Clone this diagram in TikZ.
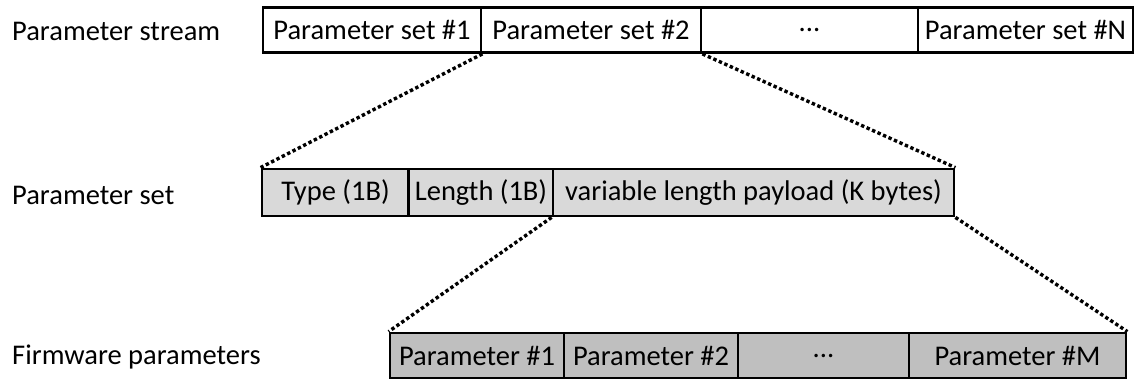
\documentclass[tikz,border=0pt]{standalone}
\usepackage{fontspec}
\setmainfont{Carlito}
\begin{document}
\begin{tikzpicture}[x=1pt,y=-1pt,
  cell/.style={draw=black, line width=2.8pt, inner sep=0pt, anchor=center,
    font=\fontsize{28.5}{32}\selectfont},
  lvlone/.style={cell, fill=white, minimum height=45pt},
  lvltwo/.style={cell, fill=gray!30, minimum height=47pt},
  lvlthree/.style={cell, fill=gray!50, minimum height=45pt},
  rowlabel/.style={anchor=west, inner sep=0pt, font=\fontsize{28.5}{32}\selectfont},
  zoomline/.style={line width=3.4pt, dash pattern=on 3.4pt off 2.6pt}]
\useasboundingbox (0,0) rectangle (1138,380);

% row labels
\node[rowlabel] (lstream) at (12,31) {Parameter stream};
\node[rowlabel] (lset) at (12,195) {Parameter set};
\node[rowlabel] (lfw) at (12,357) {Firmware parameters};

% parameter stream
\node[lvlone, minimum width=218pt] (s1) at (372,30) {Parameter set \#1};
\node[lvlone, minimum width=220pt] (s2) at (591,30) {Parameter set \#2};
\node[lvlone, minimum width=217pt] (s3) at (809.5,30) {...};
\node[lvlone, minimum width=215pt] (s4) at (1025.5,30) {Parameter set \#N};

% parameter set
\node[lvltwo, minimum width=147pt] (t1) at (335.5,192.5) {Type (1B)};
\node[lvltwo, minimum width=145pt] (t2) at (481,192.5) {Length (1B)};
\node[lvltwo, minimum width=401pt] (t3) at (753.5,192.5) {variable length payload (K bytes)};

% firmware parameters
\node[lvlthree, minimum width=174pt] (f1) at (477,355.5) {Parameter \#1};
\node[lvlthree, minimum width=174pt] (f2) at (651,355.5) {Parameter \#2};
\node[lvlthree, minimum width=171pt] (f3) at (823.5,355.5) {...};
\node[lvlthree, minimum width=217pt] (f4) at (1017.5,355.5) {Parameter \#M};

% zoom-in guides
\draw[zoomline] (s1.south east) -- (t1.north west);
\draw[zoomline] (s2.south east) -- (t3.north east);
\draw[zoomline] (t3.south west) -- (f1.north west);
\draw[zoomline] (t3.south east) -- (f4.north east);
\end{tikzpicture}
\end{document}
